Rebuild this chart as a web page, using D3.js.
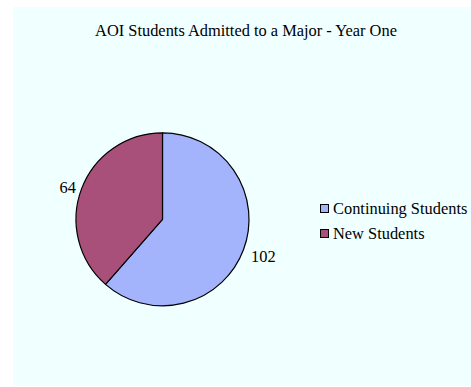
<!DOCTYPE html>
<html>
<head>
<meta charset="utf-8">
<script src="https://cdn.jsdelivr.net/npm/d3@7"></script>
<style>
  html, body { margin: 0; padding: 0; background: #ffffff; }
  svg { display: block; }
  text { font-family: "Liberation Serif", "Times New Roman", serif; }
</style>
</head>
<body>
<svg id="chart" width="471" height="387"></svg>
<script>
const titleText = "AOI Students Admitted to a Major - Year One";
const categories = ["Continuing Students", "New Students"];
const values = [102, 64];
const colors = ["#A3B3FC", "#A8507A"];

const svg = d3.select("#chart");
const W = 471, H = 387;
const FS = 16.4;

svg.append("rect")
  .attr("x", 13).attr("y", 7)
  .attr("width", W - 13).attr("height", H - 7 - 1)
  .attr("fill", "#F0FFFF");

svg.append("text")
  .attr("x", 246).attr("y", 36)
  .attr("text-anchor", "middle")
  .attr("font-size", FS)
  .attr("fill", "#000")
  .text(titleText);

const data = categories.map((c, i) => ({ cat: c, value: values[i], color: colors[i] }));
const pie = d3.pie().value(d => d.value).sort(null);
const arcs = pie(data);
const r = 86.5;
const cx = 162.5, cy = 219.3;
const arc = d3.arc().innerRadius(0).outerRadius(r);

const g = svg.append("g").attr("transform", `translate(${cx},${cy})`);
g.selectAll("path.slice")
  .data(arcs)
  .join("path")
  .attr("class", "slice")
  .attr("d", arc)
  .attr("fill", d => d.data.color)
  .attr("stroke", "#000")
  .attr("stroke-width", 1.2)
  .attr("stroke-linejoin", "round");

const lr = r + 6;
function mid(d) { return (d.startAngle + d.endAngle) / 2; }
g.selectAll("text.lbl")
  .data(arcs)
  .join("text")
  .attr("class", "lbl")
  .attr("x", d => {
    const a = mid(d);
    const x = lr * Math.sin(a);
    return x > 0 ? x + 2 : x;
  })
  .attr("y", d => {
    const a = mid(d);
    return -lr * Math.cos(a) + 8 - 6 * Math.cos(a);
  })
  .attr("text-anchor", d => Math.sin(mid(d)) > 0 ? "start" : "end")
  .attr("font-size", FS)
  .attr("fill", "#000")
  .text(d => d.data.value);

const legend = svg.append("g");
const items = legend.selectAll("g.item")
  .data(data)
  .join("g")
  .attr("class", "item")
  .attr("transform", (d, i) => `translate(320,${204 + i * 25})`);
items.append("rect")
  .attr("x", 0.5).attr("y", 0.5)
  .attr("width", 8).attr("height", 8)
  .attr("fill", d => d.color)
  .attr("stroke", "#000")
  .attr("stroke-width", 1);
items.append("text")
  .attr("x", 13).attr("y", 10)
  .attr("font-size", FS)
  .attr("fill", "#000")
  .text(d => d.cat);
</script>
</body>
</html>
